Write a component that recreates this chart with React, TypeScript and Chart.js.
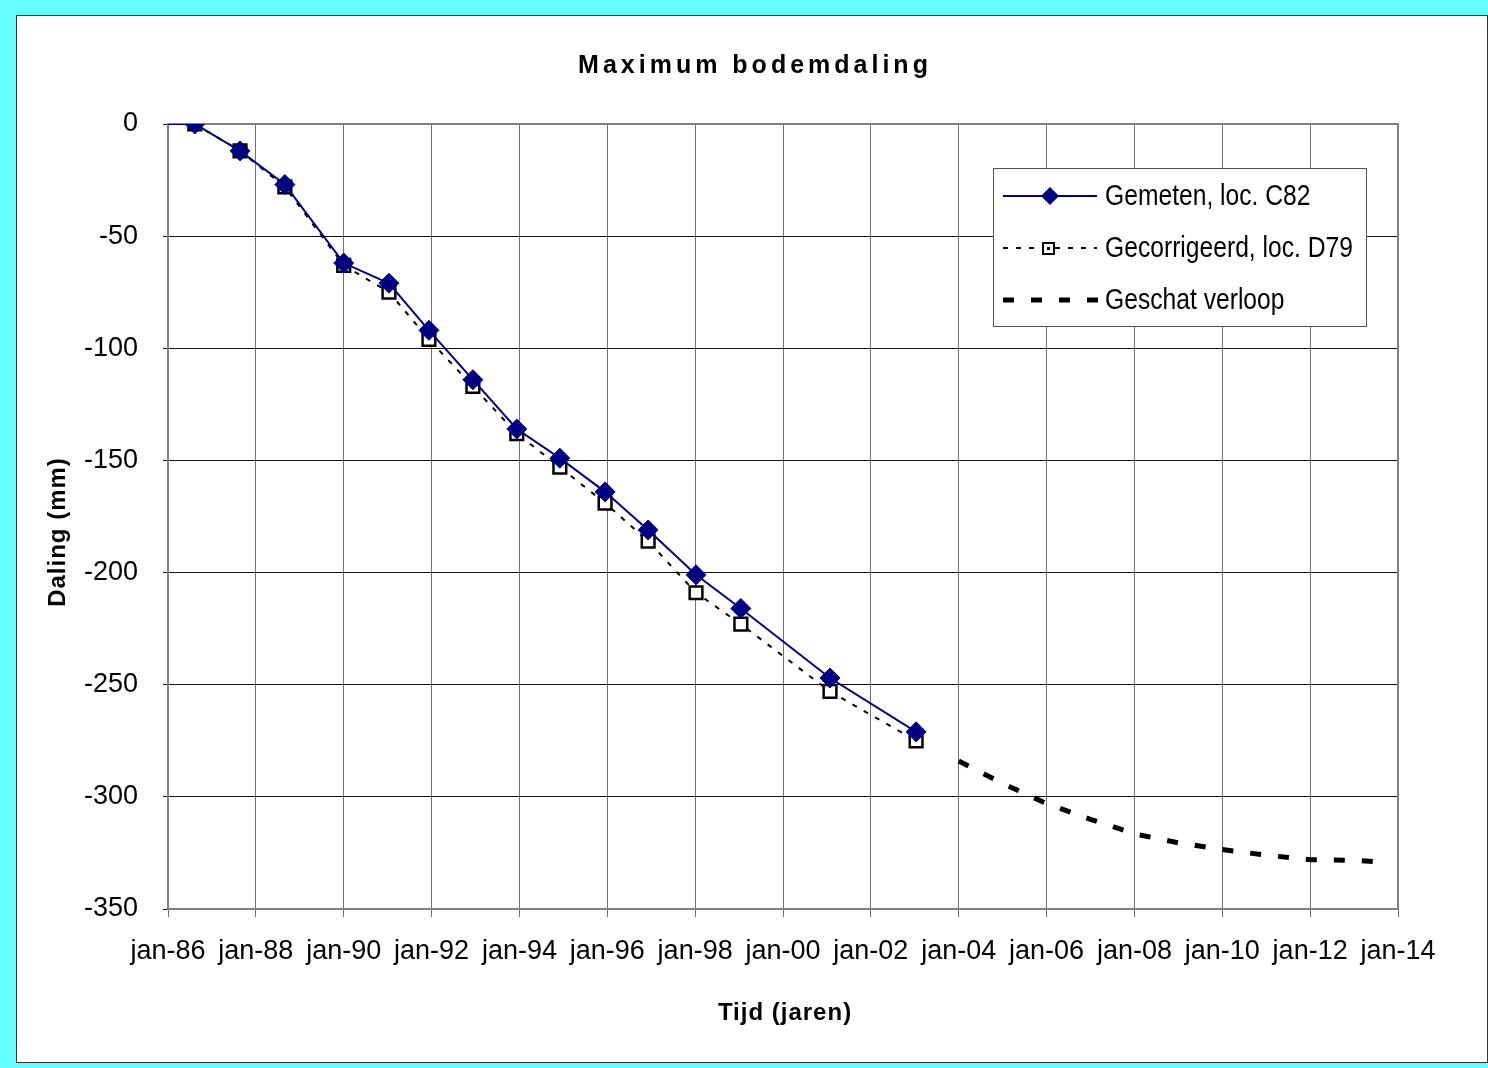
import { useEffect, useRef } from 'react';
import { Chart, registerables } from 'chart.js';

Chart.register(...registerables);

// ---- data (decimal years, mm) ----
const gemetenYears = [1986.0, 1986.61, 1987.64, 1988.66, 1990.0, 1991.03, 1991.94, 1992.94, 1993.94, 1994.92, 1995.95, 1996.93, 1998.02, 1999.04, 2001.07, 2003.03];
const gemetenValues = [0, 0, -12, -27, -62, -71, -92, -114, -136, -149, -164, -181, -201, -216, -247, -271];

const gecorrigeerdYears = [1986.61, 1987.64, 1988.66, 1990.0, 1991.03, 1991.94, 1992.94, 1993.94, 1994.92, 1995.95, 1996.93, 1998.02, 1999.04, 2001.07, 2003.03];
const gecorrigeerdValues = [0, -12, -28, -63, -75, -96, -117, -138, -153, -169, -186, -209, -223, -253, -275];

const geschatYears = [2004.0, 2005.0, 2006.0, 2007.0, 2008.0, 2009.0, 2010.0, 2011.0, 2012.0, 2013.0, 2013.6];
const geschatValues = [-284, -294, -303, -310, -316.5, -320.5, -323.5, -326, -328, -328.3, -329];

const xTickYears = [1986, 1988, 1990, 1992, 1994, 1996, 1998, 2000, 2002, 2004, 2006, 2008, 2010, 2012, 2014];
const xTickLabels = ['jan-86', 'jan-88', 'jan-90', 'jan-92', 'jan-94', 'jan-96', 'jan-98', 'jan-00', 'jan-02', 'jan-04', 'jan-06', 'jan-08', 'jan-10', 'jan-12', 'jan-14'];
const yTickValues = [0, -50, -100, -150, -200, -250, -300, -350];

const seriesLabels = ['Gemeten, loc. C82', 'Gecorrigeerd, loc. D79', 'Geschat verloop'];
const chartTitle = 'Maximum bodemdaling';
const xTitle = 'Tijd (jaren)';
const yTitle = 'Daling (mm)';

const SANS = "'Liberation Sans', Arial, sans-serif";
const NAVY = '#000080';

const W = 1488;
const H = 1068;

const decorPlugin = {
  id: 'decor',
  beforeDatasetsDraw(chart: any) {
    const { ctx, chartArea: a } = chart;
    ctx.save();
    ctx.strokeStyle = '#808080';
    ctx.lineWidth = 2;
    ctx.strokeRect(a.left, a.top, a.right - a.left, a.bottom - a.top);
    ctx.restore();
  },
  afterDraw(chart: any) {
    const { ctx } = chart;
    ctx.save();
    // titles
    ctx.fillStyle = '#000';
    ctx.textAlign = 'center';
    ctx.textBaseline = 'alphabetic';
    ctx.font = `bold 25px ${SANS}`;
    (ctx as any).letterSpacing = '4px';
    ctx.fillText(chartTitle, 755, 73);
    ctx.font = `bold 24px ${SANS}`;
    (ctx as any).letterSpacing = '1px';
    ctx.fillText(xTitle, 785, 1020);
    ctx.save();
    ctx.translate(65, 532);
    ctx.rotate(-Math.PI / 2);
    ctx.fillText(yTitle, 0, 0);
    ctx.restore();
    (ctx as any).letterSpacing = '0px';

    // legend
    const bx = 993, by = 168, bw = 373, bh = 158;
    ctx.fillStyle = '#fff';
    ctx.fillRect(bx, by, bw, bh);
    ctx.strokeStyle = '#555';
    ctx.lineWidth = 1;
    ctx.strokeRect(bx + 0.5, by + 0.5, bw, bh);
    const rows = [196, 248, 300];
    const x0 = 1003, x1 = 1097, tx = 1105;
    // row 1
    ctx.strokeStyle = NAVY;
    ctx.lineWidth = 2;
    ctx.setLineDash([]);
    ctx.beginPath(); ctx.moveTo(x0, rows[0]); ctx.lineTo(x1, rows[0]); ctx.stroke();
    ctx.fillStyle = NAVY;
    ctx.beginPath();
    const dx = 1050, r = 9;
    ctx.moveTo(dx - r, rows[0]); ctx.lineTo(dx, rows[0] - r); ctx.lineTo(dx + r, rows[0]); ctx.lineTo(dx, rows[0] + r); ctx.closePath();
    ctx.fill();
    // row 2
    ctx.strokeStyle = '#000';
    ctx.lineWidth = 2;
    ctx.setLineDash([5, 8]);
    ctx.beginPath(); ctx.moveTo(x0, rows[1]); ctx.lineTo(x1, rows[1]); ctx.stroke();
    ctx.setLineDash([]);
    ctx.fillStyle = '#fff';
    ctx.fillRect(1043, rows[1] - 5, 11, 11);
    ctx.lineWidth = 2;
    ctx.strokeRect(1043, rows[1] - 5, 11, 11);
    ctx.fillStyle = '#000';
    ctx.fillRect(1047, rows[1] - 1, 3, 3);
    // row 3
    ctx.lineWidth = 5;
    ctx.setLineDash([11, 17]);
    ctx.beginPath(); ctx.moveTo(x0, rows[2]); ctx.lineTo(x1 + 4, rows[2]); ctx.stroke();
    ctx.setLineDash([]);
    // labels (horizontally condensed, like the narrow original font)
    ctx.fillStyle = '#000';
    ctx.textAlign = 'left';
    ctx.textBaseline = 'middle';
    ctx.font = `29px ${SANS}`;
    seriesLabels.forEach((l, i) => {
      ctx.save();
      ctx.translate(tx, rows[i] + 1);
      ctx.scale(0.85, 1);
      ctx.fillText(l, 0, 0);
      ctx.restore();
    });
    ctx.restore();
  },
};

export default function App() {
  const ref = useRef<HTMLCanvasElement | null>(null);

  useEffect(() => {
    if (!ref.current) return;
    const chart = new Chart(ref.current, {
      type: 'line',
      data: {
        datasets: [
          {
            label: seriesLabels[0],
            data: gemetenYears.map((x, i) => ({ x, y: gemetenValues[i] })),
            borderColor: NAVY,
            backgroundColor: NAVY,
            borderWidth: 2,
            pointStyle: 'rectRot',
            pointRadius: gemetenYears.map((_, i) => (i === 0 ? 0 : 10)),
            pointBackgroundColor: NAVY,
            pointBorderColor: NAVY,
            pointBorderWidth: 1,
            tension: 0,
          },
          {
            label: seriesLabels[1],
            data: gecorrigeerdYears.map((x, i) => ({ x, y: gecorrigeerdValues[i] })),
            borderColor: '#000',
            backgroundColor: '#fff',
            borderWidth: 2,
            borderDash: [5, 8],
            pointStyle: 'rect',
            pointRadius: 9,
            pointBackgroundColor: '#fff',
            pointBorderColor: '#000',
            pointBorderWidth: 2.5,
            tension: 0,
          },
          {
            label: seriesLabels[2],
            data: geschatYears.map((x, i) => ({ x, y: geschatValues[i] })),
            borderColor: '#000',
            borderWidth: 5,
            borderDash: [11, 17],
            borderCapStyle: 'butt',
            pointRadius: 0,
            tension: 0,
          },
        ],
      },
      options: {
        animation: false,
        responsive: false,
        maintainAspectRatio: false,
        events: [],
        layout: { padding: { left: 0, right: 90, top: 124, bottom: 0 } },
        plugins: {
          legend: { display: false },
          title: { display: false },
          tooltip: { enabled: false },
        },
        scales: {
          x: {
            type: 'linear',
            min: 1986,
            max: 2014,
            afterBuildTicks: (scale: any) => {
              scale.ticks = xTickYears.map((v) => ({ value: v }));
            },
            afterFit: (scale: any) => {
              scale.height = 159;
            },
            ticks: {
              autoSkip: false,
              maxRotation: 0,
              minRotation: 0,
              padding: 18,
              color: '#000',
              font: { family: SANS, size: 27 },
              callback: (v: any) => xTickLabels[xTickYears.indexOf(Number(v))] ?? '',
            },
            grid: { color: '#707070', lineWidth: 1, tickLength: 8, drawTicks: true },
            border: { display: true, color: '#606060', width: 2 },
          },
          y: {
            type: 'linear',
            min: -350,
            max: 0,
            afterBuildTicks: (scale: any) => {
              scale.ticks = yTickValues.map((v) => ({ value: v }));
            },
            afterFit: (scale: any) => {
              scale.width = 168;
            },
            ticks: {
              padding: 25,
              color: '#000',
              font: { family: SANS, size: 27 },
              callback: (v: any) => String(v),
            },
            grid: { color: '#111', lineWidth: 1, tickLength: 5, drawTicks: true },
            border: { display: true, color: '#606060', width: 2 },
          },
        },
      },
      plugins: [decorPlugin],
    } as any);
    return () => chart.destroy();
  }, []);

  return (
    <div style={{ position: 'absolute', left: 0, top: 0, width: W, height: H, background: '#66FFFF', overflow: 'hidden' }}>
      <div
        style={{
          position: 'absolute',
          left: 16,
          top: 15,
          width: 1472 - 2,
          height: 1048 - 2,
          background: '#fff',
          border: '1px solid #333',
        }}
      />
      <canvas ref={ref} width={W} height={H} style={{ position: 'absolute', left: 0, top: 0, width: W, height: H }} />
    </div>
  );
}
